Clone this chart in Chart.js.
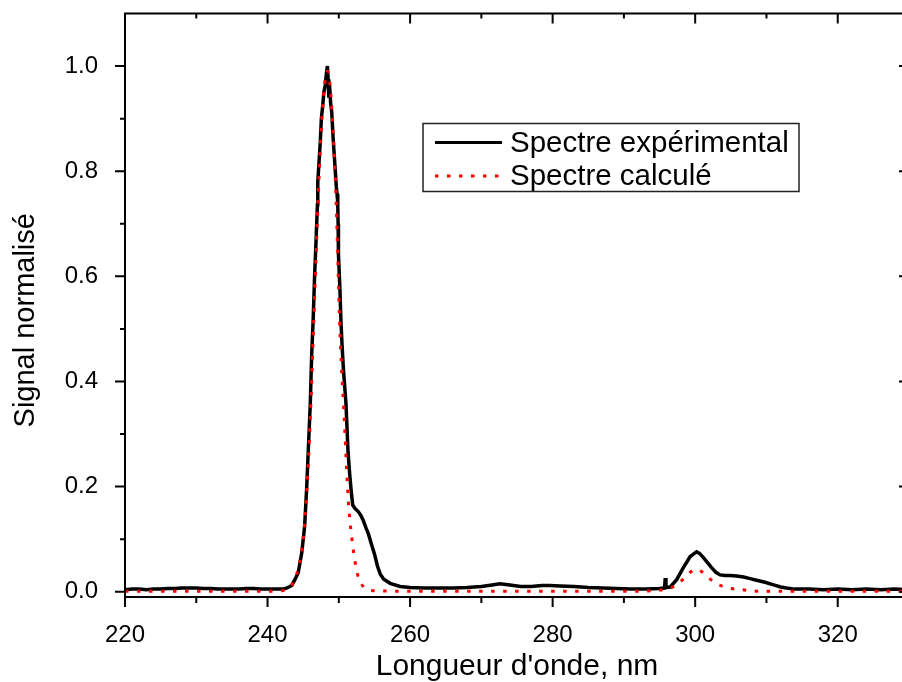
<!DOCTYPE html>
<html><head><meta charset="utf-8">
<script src="https://cdn.jsdelivr.net/npm/chart.js@4.4.1/dist/chart.umd.min.js"></script>
<style>html,body{margin:0;padding:0;overflow:hidden;background:#fff}#wrap{width:912px;height:682px}</style>
</head><body><div id="wrap"><canvas id="c" width="912" height="682"></canvas></div>
<script>
// ---- data ----
const expWavelength = [220,221,222,223,224,225,226,227,228,229,230,231,232,233,234,235,236,237,238,239,240,241,242,242.5,243,243.4,243.8,244.3,244.8,245.2,245.5,245.7,246.0,246.2,246.4,246.6,246.8,247.0,247.05,247.2,247.4,247.55,247.75,247.9,248.1,248.25,248.4,248.5,248.6,248.7,248.85,249.0,249.2,249.45,249.65,249.75,249.85,249.9,249.95,250.15,250.3,250.45,250.65,251.0,251.3,251.55,251.75,251.95,252.3,252.75,253.1,253.45,253.8,254.15,254.55,255.0,255.4,255.8,256.3,257.2,258.6,260,262,264,266,268,270,271.5,272.6,274,275.5,277,278.5,279.6,281,283,285,287,289,291,293,295,295.7,295.8,295.9,296.5,297.4,298.3,299.3,299.8,300.2,300.6,301.1,301.7,302.3,302.9,303.5,304.2,304.9,305.8,306.8,307.7,308.6,309.8,311.0,312.0,312.8,314,316,318,320,322,324,326,328,330];
const expSignal = [0.004,0.005,0.005,0.004,0.005,0.005,0.006,0.006,0.007,0.007,0.007,0.006,0.006,0.005,0.005,0.005,0.005,0.006,0.006,0.005,0.005,0.005,0.005,0.006,0.009,0.012,0.022,0.036,0.074,0.124,0.200,0.264,0.359,0.454,0.517,0.600,0.666,0.736,0.780,0.812,0.856,0.900,0.926,0.950,0.964,0.985,1.000,0.975,0.940,0.964,0.930,0.913,0.863,0.812,0.770,0.757,0.740,0.700,0.641,0.578,0.514,0.470,0.422,0.359,0.264,0.220,0.190,0.165,0.158,0.152,0.145,0.135,0.122,0.110,0.092,0.072,0.050,0.034,0.024,0.016,0.010,0.008,0.007,0.007,0.007,0.008,0.010,0.013,0.015,0.013,0.010,0.010,0.012,0.012,0.011,0.010,0.008,0.007,0.006,0.005,0.005,0.006,0.007,0.026,0.008,0.009,0.023,0.045,0.067,0.072,0.076,0.073,0.066,0.056,0.046,0.037,0.032,0.031,0.031,0.030,0.028,0.025,0.022,0.018,0.013,0.009,0.007,0.005,0.005,0.004,0.005,0.004,0.005,0.004,0.005,0.004];
const calcWavelength = [220,230,240,242,242.9,243.5,244,244.5,245,245.5,246,246.5,247,247.5,248,248.4,248.8,249.14,249.56,249.85,250.1,250.4,250.77,251.1,251.35,251.8,252.3,252.8,253.7,255,260,270,280,290,294,296.5,297.6,298.6,299.3,300.0,300.5,301.0,301.6,302.5,303.7,305.1,307.2,309,315,330];
const calcSignal = [0.001,0.001,0.001,0.002,0.007,0.015,0.030,0.055,0.100,0.190,0.330,0.520,0.710,0.870,0.965,0.990,0.960,0.888,0.767,0.640,0.515,0.422,0.327,0.232,0.169,0.105,0.055,0.025,0.007,0.002,0.001,0.001,0.001,0.001,0.002,0.007,0.015,0.028,0.037,0.042,0.042,0.037,0.030,0.020,0.011,0.006,0.003,0.001,0.001,0.001];
const seriesNames = ['Spectre expérimental', 'Spectre calculé'];
const xTickLabels = [220, 240, 260, 280, 300, 320];
const xMinorTicks = [230, 250, 270, 290, 310, 330];
const yTickLabels = [0.0, 0.2, 0.4, 0.6, 0.8, 1.0];
const yMinorTicks = [0.1, 0.3, 0.5, 0.7, 0.9];
const xTitle = "Longueur d'onde, nm";
const yTitle = 'Signal normalisé';

const FONT = '"Liberation Sans", Arial, sans-serif';

const frameTicks = {
  id: 'frameTicks',
  afterDatasetsDraw(chart) {
    const {ctx, chartArea: a, scales: {x, y}} = chart;
    ctx.save();
    ctx.strokeStyle = '#000';
    ctx.lineWidth = 2;
    ctx.setLineDash([]);
    ctx.strokeRect(a.left, a.top, a.right - a.left, a.bottom - a.top);
    ctx.beginPath();
    xTickLabels.forEach(v => { const p = x.getPixelForValue(v);
      ctx.moveTo(p, a.bottom); ctx.lineTo(p, a.bottom + 10);
      ctx.moveTo(p, a.top); ctx.lineTo(p, a.top + 10); });
    xMinorTicks.forEach(v => { const p = x.getPixelForValue(v);
      ctx.moveTo(p, a.bottom); ctx.lineTo(p, a.bottom + 6);
      ctx.moveTo(p, a.top); ctx.lineTo(p, a.top + 5); });
    yTickLabels.forEach(v => { const p = y.getPixelForValue(v);
      ctx.moveTo(a.left - 10, p); ctx.lineTo(a.left, p);
      ctx.moveTo(a.right - 10, p); ctx.lineTo(a.right, p); });
    yMinorTicks.forEach(v => { const p = y.getPixelForValue(v);
      ctx.moveTo(a.left - 5, p); ctx.lineTo(a.left, p);
      ctx.moveTo(a.right - 5, p); ctx.lineTo(a.right, p); });
    ctx.stroke();
    // y axis title
    ctx.fillStyle = '#000';
    ctx.font = '29px ' + FONT;
    ctx.textAlign = 'center';
    ctx.textBaseline = 'middle';
    ctx.translate(26, (a.top + a.bottom) / 2 + 15);
    ctx.rotate(-Math.PI / 2);
    ctx.fillText(yTitle, 0, 0);
    ctx.restore();
  }
};

const boxLegend = {
  id: 'boxLegend',
  afterDraw(chart) {
    const ctx = chart.ctx;
    const ds = chart.data.datasets;
    const bx = 423, by = 123.5, bw = 376, bh = 68;
    ctx.save();
    ctx.fillStyle = '#fff';
    ctx.fillRect(bx, by, bw, bh);
    ctx.strokeStyle = '#222';
    ctx.lineWidth = 1.5;
    ctx.strokeRect(bx, by, bw, bh);
    const rows = [142.5, 176];
    ds.forEach((d, i) => {
      ctx.beginPath();
      ctx.strokeStyle = d.borderColor;
      ctx.lineWidth = 3;
      ctx.setLineDash(d.borderDash || []);
      ctx.moveTo(435, rows[i]); ctx.lineTo(502, rows[i]);
      ctx.stroke();
      ctx.setLineDash([]);
      ctx.fillStyle = '#000';
      ctx.font = '29.5px ' + FONT;
      ctx.textBaseline = 'middle';
      ctx.textAlign = 'left';
      ctx.fillText(d.label, 510, rows[i] + 1);
    });
    ctx.restore();
  }
};

new Chart(document.getElementById('c'), {
  type: 'line',
  data: {
    datasets: [
      { label: seriesNames[0], data: expWavelength.map((w, i) => ({x: w, y: expSignal[i]})),
        borderColor: '#000', borderWidth: 3.5, pointRadius: 0, tension: 0, fill: false, order: 2 },
      { label: seriesNames[1], data: calcWavelength.map((w, i) => ({x: w, y: calcSignal[i]})),
        borderColor: '#ff0000', borderWidth: 3, borderDash: [3.5, 8.5], borderCapStyle: 'butt',
        pointRadius: 0, cubicInterpolationMode: 'monotone', fill: false, order: 1 }
    ]
  },
  options: {
    responsive: false, animation: false, devicePixelRatio: 1,
    layout: { padding: { top: 13.5, right: 3, left: 0, bottom: 0 } },
    plugins: { legend: { display: false }, tooltip: { enabled: false } },
    scales: {
      x: {
        type: 'linear', min: 220, max: 330,
        afterBuildTicks: s => { s.ticks = xTickLabels.map(v => ({value: v})); },
        afterFit: s => { s.height = 85; s.paddingLeft = 0; s.paddingRight = 0; },
        grid: { display: false }, border: { display: false },
        ticks: { color: '#000', font: { size: 24, family: FONT }, padding: 16, maxRotation: 0, autoSkip: false,
                 callback: v => String(v) },
        title: { display: true, text: xTitle, color: '#000', font: { size: 30, family: FONT, lineHeight: 1.0 }, padding: { top: 0, bottom: 0 } }
      },
      y: {
        type: 'linear', min: -0.01, max: 1.1,
        afterBuildTicks: s => { s.ticks = yTickLabels.map(v => ({value: v})); },
        afterFit: s => { s.width = 125; s.paddingTop = 0; s.paddingBottom = 0; },
        grid: { display: false }, border: { display: false },
        ticks: { color: '#000', font: { size: 24, family: FONT }, padding: 19, autoSkip: false,
                 callback: v => Number(v).toFixed(1) },
        title: { display: false }
      }
    }
  },
  plugins: [frameTicks, boxLegend]
});
</script></body></html>
